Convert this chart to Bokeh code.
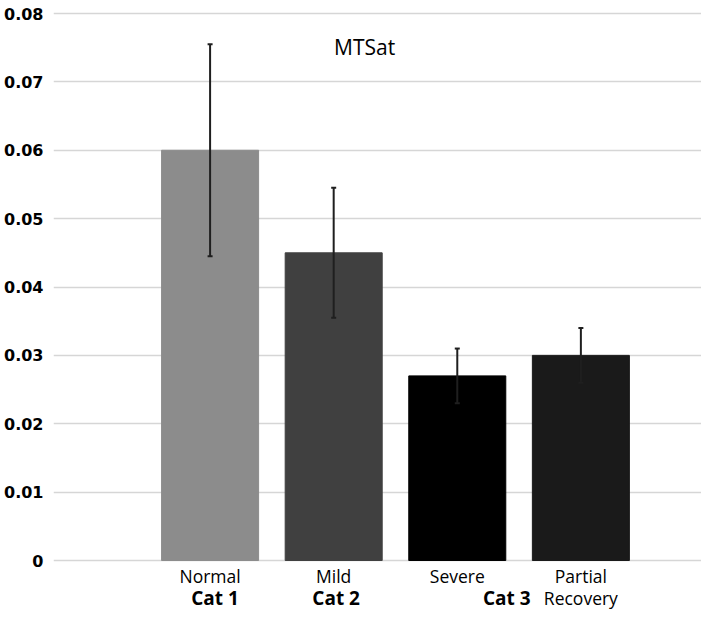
from bokeh.plotting import figure
from bokeh.models import (ColumnDataSource, Range1d, FixedTicker, Whisker, TeeHead)
from bokeh.core.properties import value
from bokeh.embed import file_html
from bokeh.resources import INLINE

# ---- data ----
categories = ["Normal", "Mild", "Severe", "Partial Recovery"]
cat_lines = [["Normal"], ["Mild"], ["Severe"], ["Partial", "Recovery"]]
values = [0.060, 0.045, 0.027, 0.030]
err_low = [0.0445, 0.0355, 0.0230, 0.0260]
err_high = [0.0755, 0.0545, 0.0310, 0.0340]
group_labels = ["Cat 1", "Cat 2", "Cat 3"]
group_pos = [1.04, 2.02, 3.40]
title_text = "MTSat"
y_ticks = [0, 0.01, 0.02, 0.03, 0.04, 0.05, 0.06, 0.07, 0.08]
bar_colors = ["#8c8c8c", "#404040", "#000000", "#1a1a1a"]

W, H = 701, 610
zero_px = 560          # figure pixel row of y=0
ppu = 547 / 0.08       # pixels per y unit

xs = list(range(1, len(categories) + 1))
src = ColumnDataSource(dict(x=xs, top=values, lo=err_low, hi=err_high, color=bar_colors))

p = figure(width=W, height=H, output_backend="svg", toolbar_location=None,
           x_range=Range1d(-0.267, 4.976),
           y_range=Range1d(-(H - zero_px) / ppu, zero_px / ppu),
           min_border_left=53, min_border_right=0, min_border_top=0, min_border_bottom=0)
p.outline_line_color = None
p.background_fill_color = "white"
p.border_fill_color = "white"

p.vbar(x="x", top="top", width=0.785, bottom=0, color="color", source=src)

wh = Whisker(base="x", lower="lo", upper="hi", source=src, line_color="#1f1f1f", line_width=2,
             level="overlay",
             upper_head=TeeHead(size=5, line_color="#1f1f1f", line_width=2),
             lower_head=TeeHead(size=5, line_color="#1f1f1f", line_width=2))
p.add_layout(wh)

p.xaxis.visible = False
p.xgrid.visible = False
p.ygrid.grid_line_color = "#d6d6d6"
p.ygrid.grid_line_width = 1.5
p.yaxis.ticker = FixedTicker(ticks=y_ticks)
p.yaxis.major_label_overrides = {t: ("0" if t == 0 else f"{t:.2f}") for t in y_ticks}
p.yaxis.axis_line_color = None
p.yaxis.major_tick_line_color = None
p.yaxis.minor_tick_line_color = None
p.yaxis.major_tick_out = 0
p.yaxis.major_tick_in = 0
p.yaxis.major_label_standoff = 10
p.yaxis.major_label_text_font = "DejaVu Sans"
p.yaxis.major_label_text_font_style = "bold"
p.yaxis.major_label_text_font_size = "16px"
p.yaxis.major_label_text_color = "#000000"

# category labels under the bars
lx, ly, lt = [], [], []
for x, lines in zip(xs, cat_lines):
    for i, line in enumerate(lines):
        lx.append(x)
        ly.append(-(15 + 22 * i) / ppu)
        lt.append(line)
p.text(x=lx, y=ly, text=lt, text_align="center", text_baseline="middle",
       text_font=value("Open Sans"), text_font_size="17.5px", text_color="#000000")

# group labels
p.text(x=group_pos, y=[-37 / ppu] * len(group_labels), text=group_labels,
       text_align="center", text_baseline="middle", text_font=value("Open Sans"),
       text_font_style="bold", text_font_size="19px", text_color="#000000")

# in-plot title
p.text(x=[2.25], y=[(zero_px - 46) / ppu], text=[title_text], text_align="center",
       text_baseline="middle", text_font=value("Open Sans"),
       text_font_size="21px", text_color="#000000")

open("out.html", "w").write(file_html(p, INLINE))
